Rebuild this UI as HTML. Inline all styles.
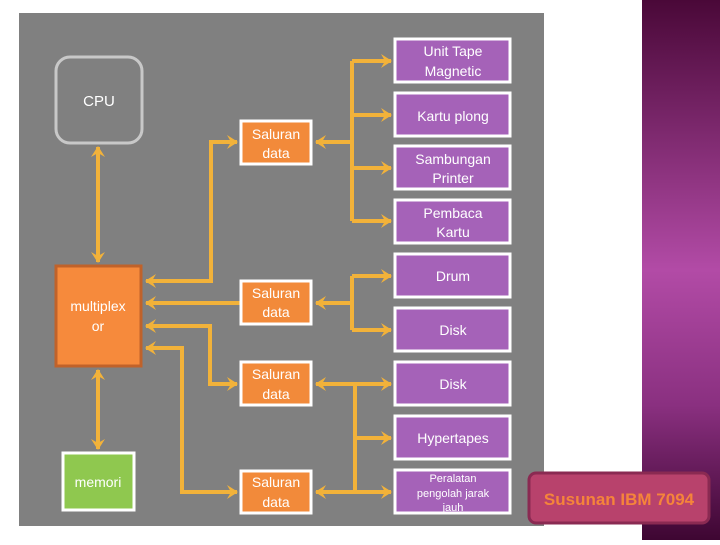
<!DOCTYPE html>
<html><head><meta charset="utf-8"><style>
body{margin:0;width:720px;height:540px;overflow:hidden;background:#fff;font-family:"Liberation Sans",sans-serif}
</style></head><body>
<svg width="720" height="540" viewBox="0 0 720 540" xmlns="http://www.w3.org/2000/svg" font-family="Liberation Sans, sans-serif">
<defs>
<linearGradient id="pg" x1="0" y1="0" x2="0" y2="1">
<stop offset="0" stop-color="#4a0838"/><stop offset="0.5" stop-color="#b24ba6"/><stop offset="0.75" stop-color="#8a3080"/><stop offset="1" stop-color="#3e0632"/>
</linearGradient>
<marker id="a" markerWidth="14" markerHeight="14" refX="10" refY="7" orient="auto-start-reverse" markerUnits="userSpaceOnUse">
<path d="M0,0 L11,7 L0,14 L4,7 Z" fill="#f2b23a"/>
</marker>
</defs>
<rect x="642" y="0" width="78" height="540" fill="url(#pg)"/>
<rect x="19" y="13" width="525" height="513" fill="#808080"/>
<g stroke="#f2b23a" stroke-width="4" fill="none">
<line x1="98" y1="147" x2="98" y2="262" marker-start="url(#a)" marker-end="url(#a)"/>
<line x1="98" y1="370" x2="98" y2="449" marker-start="url(#a)" marker-end="url(#a)"/>
<polyline points="146,281 211,281 211,142 237,142" marker-start="url(#a)" marker-end="url(#a)"/>
<line x1="240" y1="303" x2="146" y2="303" marker-end="url(#a)"/>
<polyline points="146,326 210,326 210,384 237,384" marker-start="url(#a)" marker-end="url(#a)"/>
<polyline points="146,348 182,348 182,492 237,492" marker-start="url(#a)" marker-end="url(#a)"/>
<line x1="352" y1="61" x2="352" y2="221"/>
<line x1="352" y1="142" x2="316" y2="142" marker-end="url(#a)"/>
<line x1="352" y1="61" x2="391" y2="61" marker-end="url(#a)"/>
<line x1="352" y1="115" x2="391" y2="115" marker-end="url(#a)"/>
<line x1="352" y1="168" x2="391" y2="168" marker-end="url(#a)"/>
<line x1="352" y1="221" x2="391" y2="221" marker-end="url(#a)"/>
<line x1="352" y1="276" x2="352" y2="330"/>
<line x1="352" y1="303" x2="316" y2="303" marker-end="url(#a)"/>
<line x1="352" y1="276" x2="391" y2="276" marker-end="url(#a)"/>
<line x1="352" y1="330" x2="391" y2="330" marker-end="url(#a)"/>
<line x1="355" y1="384" x2="355" y2="492"/>
<line x1="355" y1="384" x2="316" y2="384" marker-end="url(#a)"/>
<line x1="355" y1="492" x2="316" y2="492" marker-end="url(#a)"/>
<line x1="355" y1="384" x2="391" y2="384" marker-end="url(#a)"/>
<line x1="355" y1="438" x2="391" y2="438" marker-end="url(#a)"/>
<line x1="355" y1="492" x2="391" y2="492" marker-end="url(#a)"/>
</g>
<rect x="56" y="57" width="86" height="86" rx="14" fill="none" stroke="#c8c8c8" stroke-width="3"/>
<text x="99" y="106" fill="#fff" font-size="15" text-anchor="middle">CPU</text>
<rect x="56" y="266" width="85" height="100" fill="#f68a3c" stroke="#c0622a" stroke-width="3"/>
<text fill="#fff" font-size="14" text-anchor="middle"><tspan x="98" y="311">multiplex</tspan><tspan x="98" y="331">or</tspan></text>
<rect x="63" y="453" width="71" height="57" fill="#8fc84f" stroke="#fff" stroke-width="3"/>
<text x="98" y="487" fill="#fff" font-size="14" text-anchor="middle">memori</text>
<g fill="#f28a3a" stroke="#fff" stroke-width="3">
<rect x="241" y="121" width="70" height="43"/>
<rect x="241" y="281" width="70" height="43"/>
<rect x="241" y="362" width="70" height="43"/>
<rect x="241" y="471" width="70" height="42"/>
</g>
<g fill="#fff" font-size="14" text-anchor="middle">
<text><tspan x="276" y="139">Saluran</tspan><tspan x="276" y="158">data</tspan></text>
<text><tspan x="276" y="298">Saluran</tspan><tspan x="276" y="317">data</tspan></text>
<text><tspan x="276" y="379">Saluran</tspan><tspan x="276" y="399">data</tspan></text>
<text><tspan x="276" y="487">Saluran</tspan><tspan x="276" y="507">data</tspan></text>
</g>
<g fill="#a562b8" stroke="#fff" stroke-width="3">
<rect x="395" y="39" width="115" height="43"/>
<rect x="395" y="93" width="115" height="43"/>
<rect x="395" y="146" width="115" height="43"/>
<rect x="395" y="200" width="115" height="43"/>
<rect x="395" y="254" width="115" height="43"/>
<rect x="395" y="308" width="115" height="43"/>
<rect x="395" y="362" width="115" height="43"/>
<rect x="395" y="416" width="115" height="43"/>
<rect x="395" y="470" width="115" height="43"/>
</g>
<g fill="#fff" font-size="14" text-anchor="middle">
<text><tspan x="453" y="56">Unit Tape</tspan><tspan x="453" y="76">Magnetic</tspan></text>
<text x="453" y="121">Kartu plong</text>
<text><tspan x="453" y="164">Sambungan</tspan><tspan x="453" y="183">Printer</tspan></text>
<text><tspan x="453" y="218">Pembaca</tspan><tspan x="453" y="237">Kartu</tspan></text>
<text x="453" y="281">Drum</text>
<text x="453" y="335">Disk</text>
<text x="453" y="389">Disk</text>
<text x="453" y="443">Hypertapes</text>
<text font-size="11"><tspan x="453" y="482">Peralatan</tspan><tspan x="453" y="497">pengolah jarak</tspan><tspan x="453" y="511">jauh</tspan></text>
</g>
<rect x="529" y="473" width="180" height="50" rx="7" fill="#b8426c" stroke="#8a2a52" stroke-width="3"/>
<text x="619" y="505" fill="#f5843a" font-size="17" font-weight="bold" text-anchor="middle">Susunan IBM 7094</text>
</svg>
</body></html>
